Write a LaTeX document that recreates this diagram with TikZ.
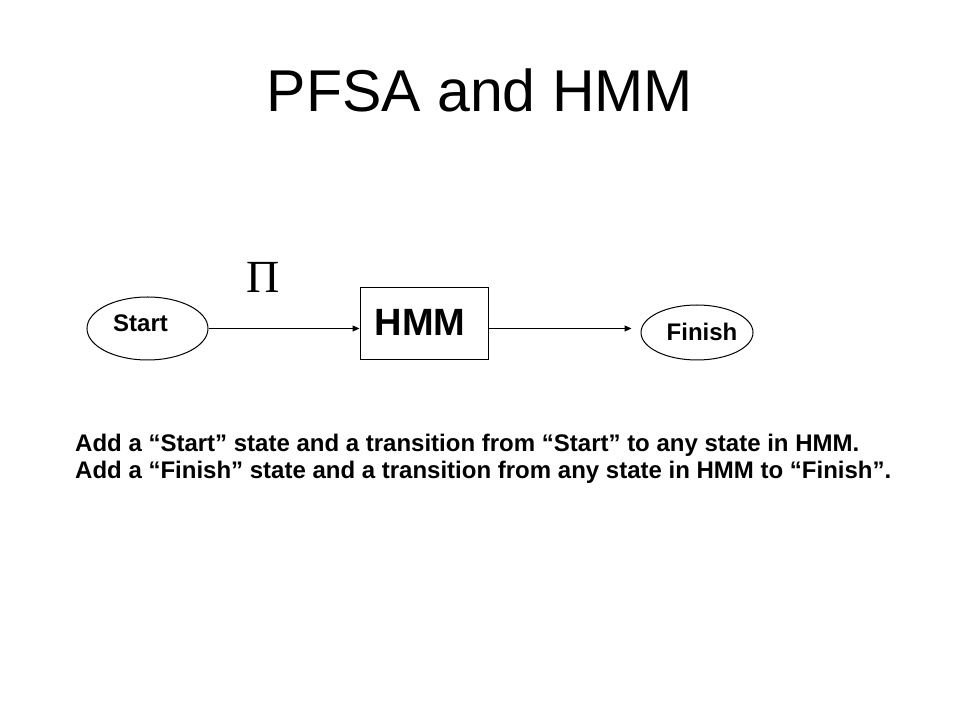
\documentclass[tikz,border=0pt]{standalone}
\usepackage{fontspec}
\setmainfont{Liberation Sans}
\newfontfamily\pifont{Liberation Serif}
\usetikzlibrary{shapes.geometric,arrows.meta}
\tikzset{
  statebox/.style={draw=black, line width=1pt, ellipse, inner sep=0pt},
  hmmbox/.style={draw=black, line width=1pt, rectangle, inner sep=0pt, minimum width=128pt, minimum height=72pt},
  lbl/.style={inner sep=0pt, anchor=base, font=\fontsize{24pt}{28pt}\selectfont\bfseries},
  conn/.style={line width=1pt, -{Triangle[length=7pt,width=6pt]}},
}
\begin{document}
\begin{tikzpicture}[x=1pt,y=1pt]
\useasboundingbox[fill=white] (0,0) rectangle (960,720);
\node[inner sep=0pt, anchor=base, font=\fontsize{59pt}{66pt}\selectfont] (title) at (480,608) {PFSA and HMM};
\node[statebox, minimum width=121pt, minimum height=63pt] (start) at (147.5,391.5) {};
\node[lbl] (starttxt) at (140.5,388) {Start};
\node[hmmbox] (box) at (424,396) {};
\node[lbl, font=\fontsize{38pt}{44pt}\selectfont\bfseries] (hmmtxt) at (420,384) {HMM};
\node[statebox, minimum width=112pt, minimum height=55pt] (finish) at (697,387.5) {};
\node[lbl] (finishtxt) at (702,379) {Finish};
\node[inner sep=0pt, anchor=base, font=\fontsize{46pt}{50pt}\pifont] (pi) at (263,427) {Π};
\draw[conn] (start.east) -- (start.east -| box.west);
\coordinate (fin) at ([xshift=-9pt]finish.west |- start.east);
\draw[conn] (box.east |- start.east) -- (fin);
\node[inner sep=0pt, anchor=base west, align=left, font=\fontsize{24pt}{27pt}\selectfont\bfseries] (note) at (75,241)
  {Add a “Start” state and a transition from “Start” to any state in HMM.\\
   Add a “Finish” state and a transition from any state in HMM to “Finish”.};
\end{tikzpicture}
\end{document}
